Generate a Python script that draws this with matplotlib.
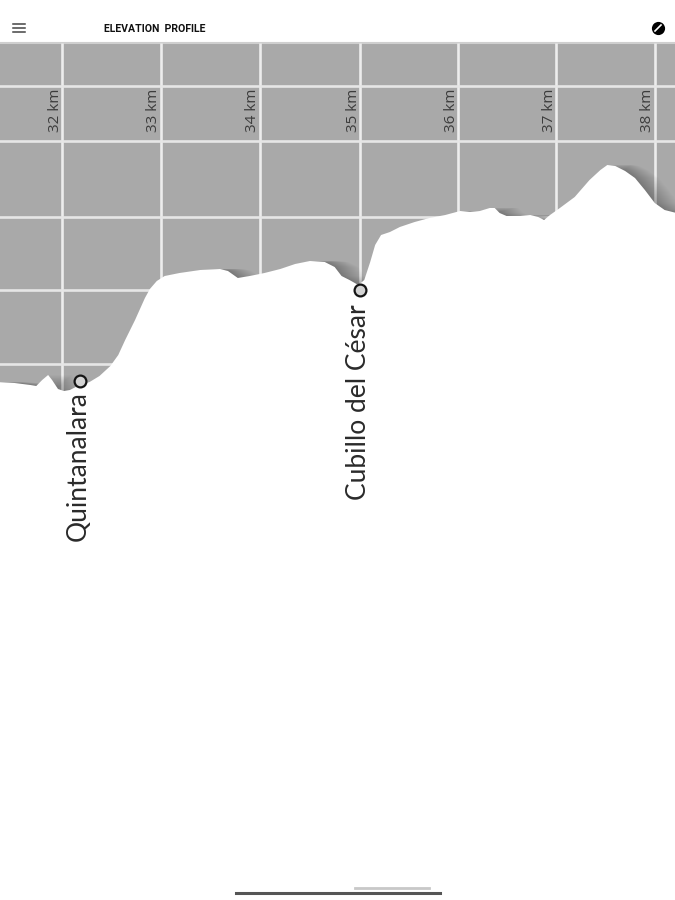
import matplotlib
matplotlib.use('Agg')
import matplotlib.pyplot as plt
import numpy as np

# Profile
km = [31.33, 31.52, 31.68, 31.74, 31.80, 31.86, 31.90, 31.96, 32.02, 32.08, 32.18, 32.28,
      32.38, 32.49, 32.57, 32.64, 32.74, 32.84, 32.89, 32.96, 33.04, 33.19, 33.40, 33.60,
      33.68, 33.78, 33.90, 34.05, 34.21, 34.36, 34.51, 34.66, 34.76, 34.83, 34.91, 35.00,
      35.06, 35.12, 35.17, 35.23, 35.32, 35.42, 35.57, 35.72, 35.88, 36.03, 36.13, 36.23,
      36.33, 36.38, 36.43, 36.50, 36.64, 36.74, 36.82, 36.88, 36.94, 37.04, 37.19, 37.34,
      37.45, 37.52, 37.60, 37.70, 37.80, 37.90, 38.00, 38.10, 38.30]
elevation = [818, 817, 815, 814, 820, 825, 820, 811, 809, 810, 815, 818,
             824, 834, 845, 860, 880, 902, 911, 919, 924, 927, 930, 931,
             929, 922, 924, 927, 931, 936, 939, 938, 933, 924, 920, 915,
             920, 938, 955, 965, 968, 973, 978, 982, 985, 989, 988, 989,
             992, 992, 987, 984, 984, 985, 983, 980, 985, 992, 1003, 1020,
             1030, 1035, 1034, 1029, 1022, 1010, 997, 990, 985]

km_ticks = [32, 33, 34, 35.02, 36.01, 37, 38]
km_labels = ['32 km', '33 km', '34 km', '35 km', '36 km', '37 km', '38 km']
grid_elevations = [1114, 1059, 983, 910, 836]

towns = ['Quintanalara', 'Cubillo del César']
town_km = [32.18, 35.02]
town_elevation = [819, 910]
town_offsets = [-7, -10]

fig = plt.figure(figsize=(6.75, 9), dpi=100, facecolor='white')
ax = fig.add_axes([0, 0, 1, 1])
ax.set_xlim(31.373, 38.205)
ax.set_ylim(300, 1200)
ax.axis('off')

# grey field under the header
ax.axhspan(min(elevation) - 20, 1157, color='#a9a9a9', lw=0, zorder=1)
ax.axhline(1157, color='#cfcfcf', lw=1.5, zorder=2)

for k in km_ticks:
    ax.plot([k, k], [700, 1157], color='#ededed', lw=1.9, zorder=2, solid_capstyle='butt')
for e in grid_elevations:
    ax.axhline(e, color='#e6e6e6', lw=1.9, zorder=2)

# km labels sit left of the lines
for k, lab in zip(km_ticks, km_labels):
    ax.annotate(lab, (k, 1111), xytext=(0.5, 0), textcoords='offset points', rotation=90,
                ha='right', va='top', fontsize=11, family='Open Sans', color='#3c3c3c',
                zorder=3)

# soft shadow on the slopes that fall to the right
km_arr = np.array(km)
for shift in np.linspace(0.01, 0.24, 24):
    ax.fill_between(km_arr + shift, elevation, 300, color='black', alpha=0.01, lw=0, zorder=4)
ax.fill_between(km_arr, elevation, 300, color='white', lw=0, zorder=5)

ax.plot(town_km, town_elevation, 'o', ms=8.5, mfc='#d4d4d4', mec='#151515', mew=1.6, zorder=6)
for t, k, e, off in zip(towns, town_km, town_elevation, town_offsets):
    ax.annotate(t, (k, e), xytext=(-1, off), textcoords='offset points', rotation=90,
                ha='center', va='top', fontsize=19, family='Lato',
                color='#2a2a2a', zorder=6)

# app chrome in pixel coordinates
ui = fig.add_axes([0, 0, 1, 1], facecolor='none')
ui.set_xlim(0, 675)
ui.set_ylim(900, 0)
ui.axis('off')

for y in [24, 28, 32]:
    ui.plot([13, 25], [y, y], color='#444444', lw=1.1)
ui.text(104, 28.5, 'ELEVATION  PROFILE', fontsize=7.6, fontweight='bold', ha='left', va='center',
        family='Roboto', color='#111111')
ui.plot([658], [28], 'o', ms=9.5, color='black', mew=0)
ui.plot([655, 661], [31, 25], color='white', lw=1.2)

ui.plot([236, 440], [893, 893], color='#555555', lw=2.2)
ui.plot([355, 429], [888, 888], color='#c8c8c8', lw=2)

fig.savefig('out.png', dpi=100)
plt.close(fig)
